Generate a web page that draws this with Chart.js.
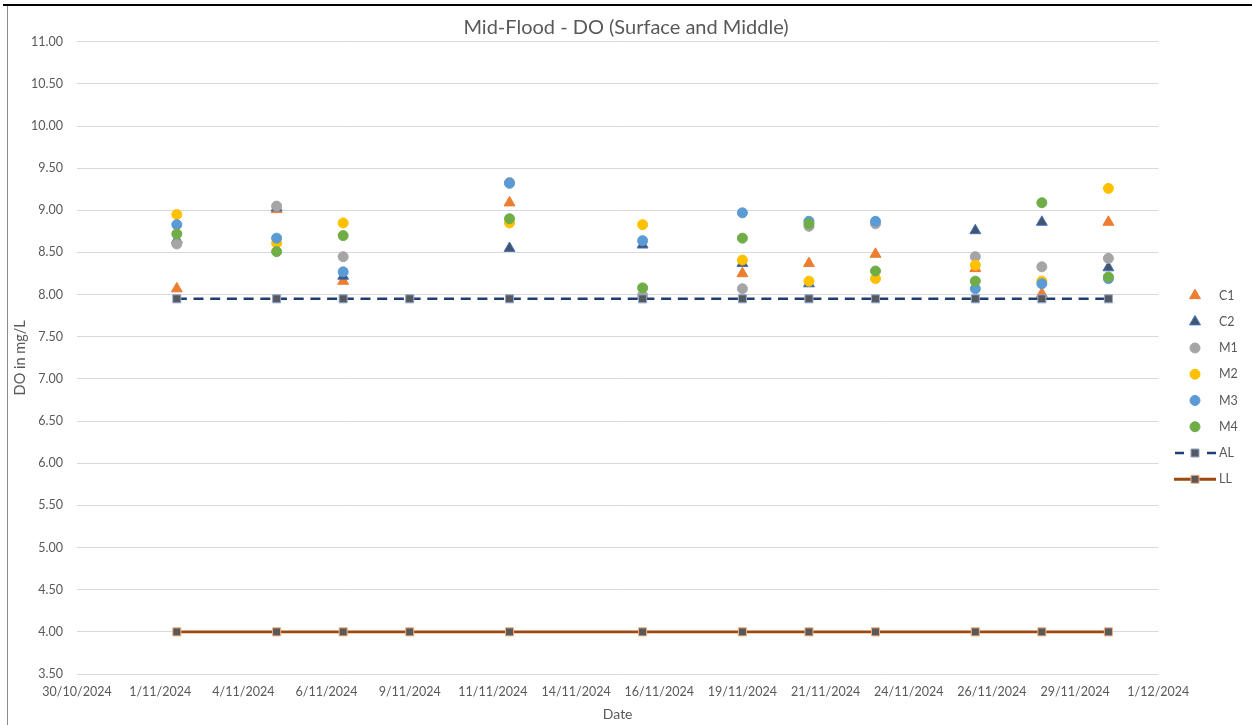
<!DOCTYPE html>
<html><head><meta charset="utf-8">
<script src="https://cdn.jsdelivr.net/npm/chart.js@4.4.1/dist/chart.umd.min.js"></script>
<style>
html,body{margin:0;padding:0;background:#fff;overflow:hidden}
#wrap{position:relative;width:1252px;height:725px;background:#fff}
canvas{position:absolute;left:0;top:0}
.topline{position:absolute;left:3px;top:4px;width:1249px;height:2px;background:#000}
.leftline{position:absolute;left:7px;top:6px;width:1px;height:719px;background:#8c8c8c}
</style></head><body>
<div id="wrap"><canvas id="c" width="1252" height="725"></canvas><div class="topline"></div><div class="leftline"></div></div>
<script>
// ---- data ----
const dates = ['2/11/2024','5/11/2024','7/11/2024','9/11/2024','12/11/2024','16/11/2024','19/11/2024','21/11/2024','23/11/2024','26/11/2024','28/11/2024','30/11/2024'];
const xTickLabels = ['30/10/2024','1/11/2024','4/11/2024','6/11/2024','9/11/2024','11/11/2024','14/11/2024','16/11/2024','19/11/2024','21/11/2024','24/11/2024','26/11/2024','29/11/2024','1/12/2024'];
const C1 = [8.07, 9.01, 8.16, null, 9.09, null, 8.25, 8.37, 8.48, 8.31, 8.01, 8.86];
const C2 = [8.65, 9.03, 8.22, null, 8.55, 8.59, 8.37, 8.13, null, 8.76, 8.86, 8.32];
const M1 = [8.60, 9.05, 8.45, null, 9.33, 7.99, 8.07, 8.81, 8.84, 8.45, 8.33, 8.43];
const M2 = [8.95, 8.61, 8.85, null, 8.85, 8.83, 8.41, 8.16, 8.19, 8.35, 8.16, 9.26];
const M3 = [8.83, 8.67, 8.27, null, 9.32, 8.64, 8.97, 8.87, 8.87, 8.07, 8.13, 8.19];
const M4 = [8.72, 8.51, 8.70, null, 8.90, 8.08, 8.67, 8.84, 8.28, 8.16, 9.09, 8.21];
const AL = [7.95, 7.95, 7.95, 7.95, 7.95, 7.95, 7.95, 7.95, 7.95, 7.95, 7.95, 7.95];
const LL = [4.00, 4.00, 4.00, 4.00, 4.00, 4.00, 4.00, 4.00, 4.00, 4.00, 4.00, 4.00];
const axisStart = '30/10/2024';

// ---- helpers ----
function dayNum(s){ const [d,m,y] = s.split('/').map(Number); return Date.UTC(y, m-1, d)/86400000; }
const day0 = dayNum(axisStart);
const xs = dates.map(d => dayNum(d) - day0);
function pts(arr){ const out=[]; arr.forEach((v,i)=>{ if(v!==null) out.push({x:xs[i], y:v}); }); return out; }

const FONT = 'Lato';
const TXT = '#595959';

function markerDs(label, arr, style, fill, border, r, order){
  return {label, data: pts(arr), showLine:false, pointStyle:style, pointRadius:r, pointHoverRadius:r,
    pointBackgroundColor:fill, pointBorderColor:border, pointBorderWidth:1, backgroundColor:fill, borderColor:border, order};
}
const datasets = [
  markerDs('C1', C1, 'triangle', '#ED7D31', '#ED7D31', 6.3, 8),
  markerDs('C2', C2, 'triangle', '#44546A', '#4472C4', 6.3, 7),
  markerDs('M1', M1, 'circle', '#A5A5A5', '#A5A5A5', 5, 6),
  markerDs('M2', M2, 'circle', '#FFC000', '#FFC000', 5, 5),
  markerDs('M3', M3, 'circle', '#5B9BD5', '#5B9BD5', 5, 4),
  markerDs('M4', M4, 'circle', '#70AD47', '#70AD47', 5, 3),
  {label:'AL', data: pts(AL), showLine:true, borderColor:'#203D73', borderWidth:2.5, borderDash:[10,6.7],
    pointStyle:'rect', pointRadius:5.7, pointHoverRadius:5.7, pointBackgroundColor:'#595959', pointBorderColor:'#8FAADC', pointBorderWidth:1, backgroundColor:'#595959', order:2},
  {label:'LL', data: pts(LL), showLine:true, borderColor:'#9E480E', borderWidth:2.8,
    pointStyle:'rect', pointRadius:5.7, pointHoverRadius:5.7, pointBackgroundColor:'#595959', pointBorderColor:'#F4B183', pointBorderWidth:1, backgroundColor:'#595959', order:1}
];

const legendPlugin = {
  id:'sideLegend',
  afterDraw(chart){
    const ctx = chart.ctx;
    const mx = 1195, y0 = 295.5, dy = 26.25;
    chart.data.datasets.forEach((ds,i)=>{
      const y = y0 + i*dy;
      ctx.save();
      if (ds.showLine){
        ctx.strokeStyle = ds.borderColor; ctx.lineWidth = ds.borderWidth;
        ctx.beginPath();
        if (ds.borderDash){ ctx.moveTo(1175,y); ctx.lineTo(1184,y); ctx.moveTo(1207,y); ctx.lineTo(1216,y); }
        else { ctx.moveTo(1174,y); ctx.lineTo(1216,y); }
        ctx.stroke();
      }
      ctx.fillStyle = ds.pointBackgroundColor; ctx.strokeStyle = ds.pointBorderColor; ctx.lineWidth = ds.pointBorderWidth;
      Chart.helpers.drawPoint(ctx, {pointStyle: ds.pointStyle, radius: ds.pointRadius, borderWidth: ds.pointBorderWidth, rotation:0}, mx, y);
      ctx.fillStyle = TXT; ctx.font = '12.5px ' + FONT; ctx.textBaseline = 'middle'; ctx.textAlign = 'left';
      ctx.fillText(ds.label, 1219, y);
      ctx.restore();
    });
  }
};

new Chart(document.getElementById('c'), {
  type:'scatter',
  data:{datasets},
  plugins:[legendPlugin],
  options:{
    responsive:false, animation:false, devicePixelRatio:1,
    layout:{padding:{left:0,right:0,top:0,bottom:0}},
    plugins:{
      legend:{display:false}, tooltip:{enabled:false},
      title:{display:true, text:'Mid-Flood - DO (Surface and Middle)', color:TXT,
        font:{family:FONT, size:20, weight:'normal', lineHeight:1.0}, padding:{top:18, bottom:3.7}}
    },
    scales:{
      x:{type:'linear', min:0, max:32.5, position:'bottom',
        grid:{display:false, drawTicks:false}, border:{display:false},
        ticks:{stepSize:2.5, autoSkip:false, maxRotation:0, color:TXT, padding:10, font:{family:FONT, size:12.5},
          callback:(v,i)=>xTickLabels[i]},
        title:{display:true, text:'Date', color:TXT, font:{family:FONT, size:14}, padding:{top:0,bottom:2}},
        afterFit(s){ s.height = 51; }
      },
      y:{type:'linear', min:3.5, max:11, position:'left',
        grid:{color:'#D9D9D9', lineWidth:1, drawTicks:false}, border:{display:false},
        ticks:{stepSize:0.5, color:TXT, padding:14, font:{family:FONT, size:12.5}, callback:v=>Number(v).toFixed(2)},
        title:{display:true, text:'DO in mg/L', color:TXT, font:{family:FONT, size:14.5}, padding:{top:11.3,bottom:0}},
        afterFit(s){ s.width = 77; }
      },
      yPad:{type:'linear', position:'right', display:true, grid:{display:false}, border:{display:false},
        ticks:{display:false}, afterFit(s){ s.width = 93.7; }}
    }
  }
});
</script>
</body></html>
